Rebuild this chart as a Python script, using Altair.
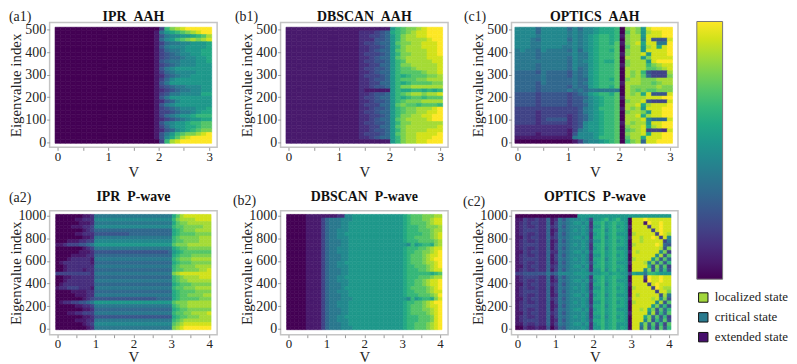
import altair as alt
import numpy as np
import pandas as pd

SERIF = "Liberation Serif"

# Colour level of each cell (hex digit 0-f, viridis), top row first.
# Spaces are only visual; short rows repeat their first digit on the left.
a1_rows = [
 "0 03acdefffff","0 1689abcdeff","0 14677889abd","0 1578abcdcde","0 13566778889","0 14677788889",
 "0 13566788899","0 13456778899","0 13455677889","0 14566777889","0 13456777888","0 14678888888",
 "0 13567777888","0 12456778888","0 13578888888","0 14688888888","0 13456677788","0 12345667788",
 "0 13466777799","0 14688888888","0 12457888888","0 14678888888","0 13456777889","0 13345667899",
 "0 13567889aaa","0 12345678899","0 1467889aabb","0 13578899abb","0 1245789abcc","0 1468abccdef",
 "0 1479bdeffff","0 03adeffffff",
]
b1_rows = [
 "1 1111118abccdefff","1 2223459abcdeefff","1 2233458acddeefff","1 2224458acddddeff","1 2334558bccddeeef",
 "1 2233458acdddeeef","1 2234558bcddddeef","1 2333458accdddeef","1 2234558bcddddeee","1 2334458abdddddee",
 "1 2233558accddddde","1 2334458abbcdddde","1 2234558abbbbcdde","1 2333458a9abbbccd","1 2234458abbbccddd",
 "1 2233558a9abbbbcc","1 2234458accdddddd","1 2111118a99aa9a9a","1 2234458abcddcdde","1 2334558a9abbabbb",
 "1 2234458abcccdddd","1 2333558bcbbabbba","1 2234458abccdddef","1 2334558abccddeef","1 2233458accddeeff",
 "1 2234558bcddddeff","1 2334458accdddddd","1 2233558bcdddddde","1 2234458acddddeee","1 2333458bcddeeeef",
 "1 2234558acddeeeff","1 1111118acddeefff",
]
c1_rows = [
 "7777 5 77777 5 7 5 778 999a 0 cdc 8effff",
 "7777 5 77777 6 7 6 778 999a 0 bdc 8deeff",
 "7777 6 77777 6 7 6 789 aa9a 1 cdd 8eeeff",
 "7776 5 77777 5 7 6 789 aa9a 0 cdd 7e444e",
 "7776 6 77777 6 7 6 789 aa9b 1 cde 9ee66f",
 "7776 6 77776 6 7 6 789 aaab 0 bdd 8de9ef",
 "6766 5 76666 5 7 5 789 aa9b 0 cdd 8eeeef",
 "6666 5 66666 6 7 6 689 aaab 1 cdd e8eeef",
 "6666 5 66666 5 7 6 689 aaab 0 ddd 8ceeee",
 "6666 6 66666 5 7 6 789 a99b 0 cdd d8efff",
 "6666 5 66666 5 7 6 689 aaab 1 cdd dacdee",
 "6666 5 66666 5 7 5 689 aaab 0 ddd dbbcde",
 "5555 4 65555 4 6 5 689 aaab 0 dcd a4333d",
 "5555 5 65555 4 6 5 689 aaab 0 dcd b5333c",
 "5555 5 65555 5 6 5 589 aa9b 0 cdd cccddd",
 "5555 4 65555 5 6 5 689 aaab 1 ddd ccbcdd",
 "5555 4 55555 4 6 5 589 aa9b 0 dcc cccdcc",
 "5555 4 55555 6 5 6 566 6666 0 dcb cbbccc",
 "4444 3 44444 3 4 5 689 aa9b 0 dcd 9e444e",
 "4444 3 44444 3 4 4 578 9aab 1 ddd deeeff",
 "4444 3 44444 3 4 4 678 9aab 0 cdd e4333e",
 "4444 3 44444 3 4 4 578 9aab 0 dde 9deeef",
 "3333 3 33333 3 3 4 678 aaab 1 dcd 8eeeff",
 "3333 2 33333 3 3 4 678 9aab 0 cdd c8eeff",
 "3333 2 33333 2 3 4 578 9aab 0 dde 9deeff",
 "3333 2 34444 2 3 4 578 9aab 0 ddd e7555e",
 "3333 2 33333 2 3 4 788 9aab 1 dcd d8eeff",
 "2222 2 22222 2 3 4 788 9aab 0 cdd e9deff",
 "2222 2 22222 1 3 6 788 9aab 0 bcd e3332e",
 "2222 1 22222 1 4 7 778 9aab 0 cdd e9eeff",
 "1111 1 11111 1 6 7 778 aaab 0 bdd 9eeeff",
 "0000 0 00000 0 1 3 677 89ab 0 acd 5eefff",
]
a2_rows = [
 "0000000112 66666666666666666666 9bdeeeeeee","0000011222 77777777777777777777 acddddeeee",
 "0000001112 66666666666666666666 9bccdddddd","0000111223 77777777777777777777 abbcccccdd",
 "0000000123 55555555555555555555 9abcccdddd","0000011222 44444444455555555555 9abbbbcccc",
 "0000000112 66666666666666666666 abcccccddd","0001112233 77777777777777777777 abbccccddd",
 "1123334456 88888888888888888888 bcccdddddd","0000000123 66666666666666666666 9abbcccccc",
 "0000001112 44444444444444444445 89abbbbbbb","0000111122 55555555555555555555 9abbbccccc",
 "0001222221 66666666666666666666 abcccddddd","0122222221 55555555555555555555 9abbbccccc",
 "0012222222 66666666666666666666 abccccdddd","0012222122 55555555555555555555 abbccccdde",
 "3333333332 66666666666666666666 cdeeeeeeee","0011222222 55555555555555555555 abcddddeee",
 "0012222222 66666666666666666666 abccdddddd","0122222222 55555555555555555555 9abbbccccc",
 "1223332221 66666666666666666666 abbcccdddd","0000111122 55555555555555555555 9abbbbcccc",
 "0000011122 66666666666666666666 9abbccccdd","0000000123 44444444444444445555 9abbbbbccc",
 "0122334456 88888888888888888888 bcccdddddd","0000011223 66666666666666666666 abccdddddd",
 "0000000112 55555555555555555555 9abbcccccc","0001122333 66666666666666666666 abbccdddde",
 "0000000112 44444444444444444444 9abbcccddd","0000011122 66666666666666666666 abcddddddd",
 "0000000123 77777777777777777777 bcdeeeeeee","0000000012 66666666666666666666 cdefffffff",
]
b2_rows = [
 "00000 1111 1 1 1122 778888888888888 9abbb cccdd","00000 1111 3 5 6667 778888888888888 9abbb ccdee",
 "00000 1111 3 5 6667 788888888888888 9abbb bcdee","00000 1111 3 5 6667 788888888888888 9aaab bcccd",
 "00000 1111 3 5 6677 788888888888888 9aaab bbcdd","00000 1111 3 5 6677 888888888888888 9aaaa bbcde",
 "00000 1111 3 5 6677 788888888888888 9aabb bbcde","00000 1111 3 5 6667 788888888888888 9aaab bbbcd",
 "00000 1111 3 5 6667 788888888888888 87a89 aa9cd","00000 1111 3 5 6677 788888888888888 9aaab bcdee",
 "00000 1111 3 5 6677 788888888888888 9aabb ccdef","00000 1111 3 5 6667 788888888888888 9abbb cdeef",
 "00000 1111 3 5 6667 788888888888888 9abbb cdeff","00000 1111 3 5 6677 888888888888888 9abbb cddef",
 "00000 1111 3 5 6677 788888888888888 9aabb bcdef","00000 1111 3 5 6667 788888888888888 9aaab bcdee",
 "00000 1111 3 5 6667 788888888888888 9aaaa aa9ab","00000 1111 3 5 6677 888888888888888 9aaab bbcdd",
 "00000 1111 3 5 6677 788888888888888 9aabb cdeef","00000 1111 3 5 6667 788888888888888 9aabb cdeef",
 "00000 1111 3 5 6667 888888888888888 9abbb bcdef","00000 1111 3 5 6677 788888888888888 9aabb bcdee",
 "00000 1111 3 5 6667 788888888888888 9aaab bbcdf","00000 1111 3 5 6667 778888888888888 87a89 aa9ce",
 "00000 1111 3 5 6677 788888888888888 9aabb cdeff","00000 1111 3 5 6677 788888888888888 9abbb cdeef",
 "00000 1111 3 5 6667 788888888888888 9abbb ccdef","00000 1111 3 5 6667 788888888888888 9abbb bcdef",
 "00000 1111 3 5 6677 888888888888888 9aaab bbcef","00000 1111 3 5 6677 788888888888888 9aaab bbcef",
 "00000 1111 3 5 6667 788888888888888 9aabb bcdef","00000 1111 3 5 6667 778888888888888 9aabb bcdef",
]
c2_rows = [
 "00000000 0 0 0 0000 0888 8 888888888 8 8888888888",
 "11322322 5 1 2 6467 7787 3 889a89a88 0 eeefeeeeee",
 "12323322 5 1 3 6567 8878 2 99a89a998 0 eee1feefee",
 "12322322 5 2 3 6467 7787 2 88a89a898 1 eeee3eefee",
 "12333322 5 1 2 6567 8787 3 99a79a998 0 eeeee3efee",
 "12322322 5 1 3 6467 7787 2 89a89a888 0 deeeee3fed",
 "11323322 5 2 3 6567 8878 2 99a79a998 1 eedeefe3e7",
 "12322322 5 1 2 6467 7787 3 88a89a898 0 eedeeeee36",
 "12333322 5 1 3 6567 8787 2 99a89a998 0 deeeeefe54",
 "12322322 5 1 3 6467 7787 2 89a79a888 0 eeeeeeed4c",
 "11323322 5 2 2 6567 8878 3 99a89a998 1 edeeeee7c3",
 "12322322 5 1 3 6467 7787 2 88a89a898 0 eeeeee7d4b",
 "12333322 5 1 3 6567 8787 2 99a79a998 0 deeee8c4b5",
 "12322322 5 1 2 6467 7787 3 89a89a888 1 eeed7c5b4a",
 "11323322 5 2 3 6567 8878 2 99a89a998 0 eeeea4c5b3",
 "12322322 5 1 3 6467 7787 2 88a79a898 0 eee7c4b5a4",
 "33444444 6 4 5 7777 8888 6 889989988 3 9886aa9888",
 "12333322 5 1 3 6467 7787 2 99a89a998 0 eee3feefee",
 "12322322 5 1 2 6567 8878 3 89a89a888 0 eee1feefee",
 "11323322 5 2 3 6467 7787 2 99a79a998 1 eeee3efeee",
 "12322322 5 1 3 6567 8787 2 88a89a898 0 deeee3fedd",
 "12333322 5 1 3 6467 7787 3 99a89a998 0 eeeeee3eec",
 "12322322 5 1 2 6567 8878 2 89a79a888 0 edeeeee4d6",
 "11323322 5 2 3 6467 7787 2 99a89a998 1 eeeeede7c4",
 "12322322 5 1 3 6567 8787 2 88a89a898 0 deeeee7d4b",
 "12333322 5 1 2 6467 7787 3 99a79a998 0 eeeee8c5a4",
 "12322322 5 1 3 6567 8878 2 89a89a888 0 eede9c4b5a",
 "11323322 5 2 3 6467 7787 2 99a89a998 1 eeee7d4a5b",
 "12322322 5 1 3 6567 8787 2 88a79a898 0 eee9c5b4a3",
 "12333322 5 1 2 6467 7787 3 99a89a998 0 eee7c4a5b4",
 "11322322 5 1 3 6567 8878 2 89a89a888 0 ee7c5b4a3b",
 "00211211 4 0 2 5467 7787 2 88a89a898 0 ee5c4a3b4a",
]

aah_y_ticks = [0, 100, 200, 300, 400, 500]
pw_y_ticks = [0, 200, 400, 600, 800, 1000]
aah_x_ticks = [0, 0.5, 1, 1.5, 2, 2.5, 3]
pw_x_ticks = [0, 0.5, 1, 1.5, 2, 2.5, 3, 3.5, 4]
state_names = ["localized state", "critical state", "extended state"]
state_colors = ["#a2d73c", "#2a7a8e", "#460f6c"]
level_domain = [0, 15]
bar_levels = [0, 15]


def cells(rows, x_edges, y_edges):
    width = len(x_edges) - 1
    out = []
    for r, row in enumerate(rows):
        row = row.replace(" ", "")
        row = row.rjust(width, row[0])[:width]
        for c, ch in enumerate(row):
            out.append((x_edges[c], x_edges[c + 1], y_edges[r + 1], y_edges[r], int(ch, 16)))
    return pd.DataFrame(out, columns=["x0", "x1", "y0", "y1", "v"])


def panel(rows, aah, title, tag, tag_x, tag_y, width, height, title_shift, v_y, x_dom, extra=None):
    vmax = 3 if aah else 4
    x_edges = np.linspace(-0.05, vmax + 0.05, vmax * 10 + 1)
    y_edges = np.linspace(510, -4, 33) if aah else np.linspace(1012, -8, 33)
    y_dom = [-22, 531] if aah else [-52, 1044]
    df = cells(rows, x_edges, y_edges)
    sc = alt.Scale(scheme="viridis", domain=level_domain)
    heat = alt.Chart(df).mark_rect(strokeWidth=0.6).encode(
        x=alt.X("x0:Q", scale=alt.Scale(domain=x_dom, nice=False, zero=False),
                axis=alt.Axis(values=aah_x_ticks if aah else pw_x_ticks, title="V", grid=False, domain=False,
                              labelExpr="datum.value % 1 == 0 ? format(datum.value, 'd') : ''", labelOverlap=False,
                              labelFont=SERIF, labelFontSize=13, labelColor="#222", tickColor="#999", tickSize=3,
                              labelPadding=0, titleFont=SERIF, titleFontSize=15, titleFontWeight="normal",
                              titleColor="#222", titleY=v_y, titleX=width / 2)),
        x2="x1:Q",
        y=alt.Y("y0:Q", scale=alt.Scale(domain=y_dom, nice=False, zero=False),
                axis=alt.Axis(values=aah_y_ticks if aah else pw_y_ticks, title="Eigenvalue index", grid=False,
                              format="d", domain=False, labelOverlap=False, labelFont=SERIF, labelFontSize=14,
                              labelColor="#222", tickColor="#999", tickSize=3, labelPadding=1, titleFont=SERIF,
                              titleFontSize=15, titleFontWeight="normal", titleColor="#222", titleX=-26,
                              titleY=height / 2)),
        y2="y1:Q",
        color=alt.Color("v:Q", scale=sc, legend=None),
        stroke=alt.Stroke("v:Q", scale=sc, legend=None),
    )
    tag_layer = alt.Chart(pd.DataFrame({"t": [tag]})).mark_text(
        font=SERIF, fontSize=14, align="left", color="#222").encode(
        x=alt.value(tag_x), y=alt.value(tag_y), text="t:N")
    layers = [heat, tag_layer] + ([extra] if extra is not None else [])
    ch = alt.layer(*layers).properties(
        width=width, height=height,
        title=alt.TitleParams(title, font=SERIF, fontSize=14, fontWeight="bold", color="#111", offset=title_shift),
    )
    if extra is not None:
        ch = ch.resolve_scale(color="independent")
    return ch


bar_layer = alt.Chart(pd.DataFrame({"v": bar_levels})).mark_square(size=0, opacity=1).encode(
    color=alt.Color("v:Q", scale=alt.Scale(scheme="viridis", domain=level_domain),
                    legend=alt.Legend(orient="none", legendX=187, legendY=-1, direction="vertical",
                                      gradientLength=260, gradientThickness=26, title=None, labelExpr="''",
                                      gradientOpacity=1, gradientStrokeColor="#777", gradientStrokeWidth=1)),
)

state_layer = alt.Chart(pd.DataFrame({"state": state_names})).mark_square(size=0).encode(
    color=alt.Color("state:N", scale=alt.Scale(domain=state_names, range=state_colors),
                    legend=alt.Legend(orient="none", legendX=187, legendY=81, title=None, symbolType="square",
                                      symbolSize=90, symbolStrokeColor="#111", symbolStrokeWidth=1, symbolOpacity=1,
                                      labelFont=SERIF, labelFontSize=13, labelColor="#222", rowPadding=5,
                                      labelOffset=5)),
)

GAP = " \u00a0"
dom3 = [-0.157, 3.157]
dom4 = [-0.21, 4.21]
dom3c = [-0.117, 3.157]
dom4c = [-0.157, 4.235]
a1 = panel(a1_rows, True, "IPR" + GAP + "AAH", "(a1)", -41, -5, 169, 126, -14, 17, dom3)
b1 = panel(b1_rows, True, "DBSCAN" + GAP + "AAH", "(b1)", -46, -5, 169, 126, -14, 17, dom3)
c1 = panel(c1_rows, True, "OPTICS" + GAP + "AAH", "(c1)", -48, -5, 168, 126, -14, 17, dom3c, extra=bar_layer)
a2 = panel(a2_rows, False, "IPR" + GAP + "P-wave", "(a2)", -41, -13, 169, 125, -13, 15, dom4)
b2 = panel(b2_rows, False, "DBSCAN" + GAP + "P-wave", "(b2)", -48, -10, 169, 125, -10, 15, dom4)
c2 = panel(c2_rows, False, "OPTICS" + GAP + "P-wave", "(c2)", -49, -9, 168, 125, -9, 15, dom4c, extra=state_layer)

chart = alt.concat(a1, b1, c1, a2, b2, c2, columns=3, spacing={"row": 64, "column": 64}, bounds="flush").properties(
    padding=0, background="white",
).configure_view(stroke="#c4c4c4", strokeWidth=1.5)

chart.save("out.html", embed_options={"renderer": "svg", "actions": False})
